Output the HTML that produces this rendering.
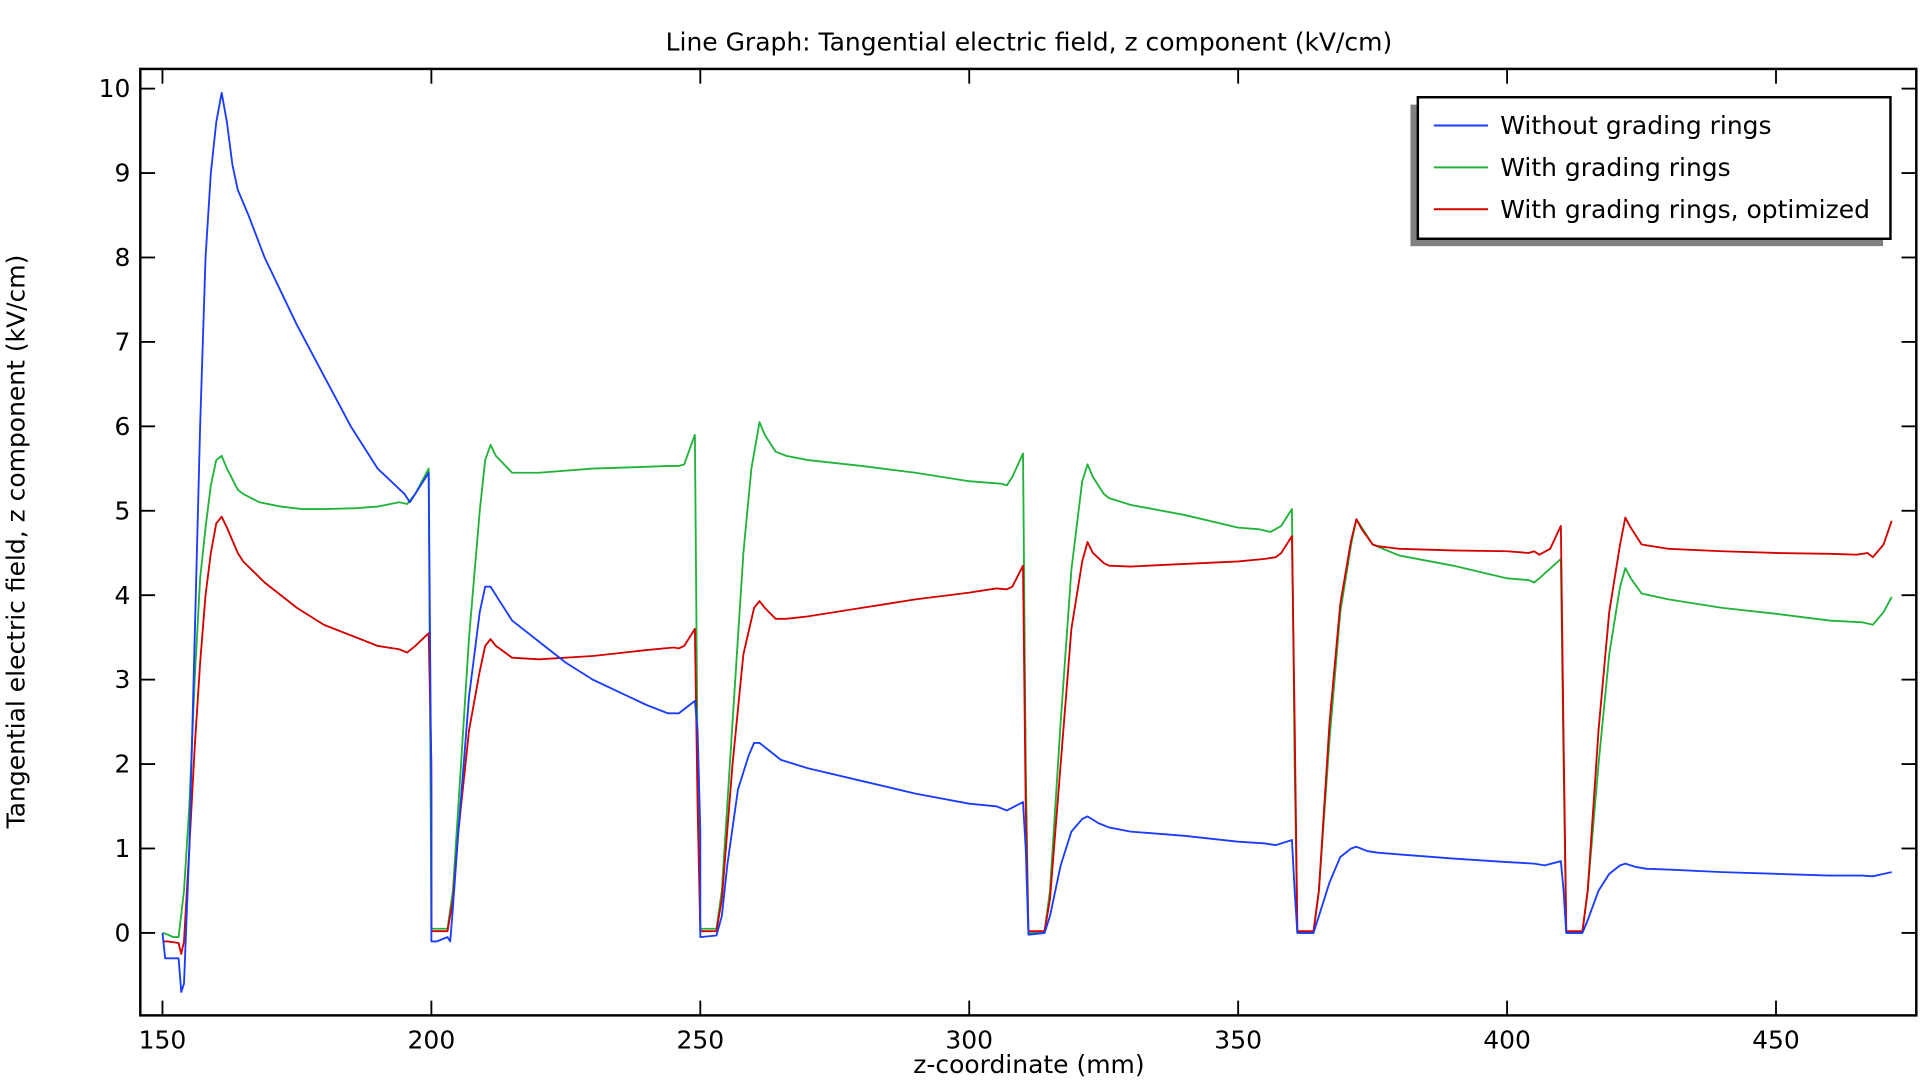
<!DOCTYPE html>
<html><head><meta charset="utf-8"><style>
html,body{margin:0;padding:0;background:#fff;width:1920px;height:1080px;overflow:hidden}
svg{display:block}
text{font-family:"DejaVu Sans",sans-serif;fill:#000}
</style></head><body>
<svg id="s" width="1920" height="1080" viewBox="0 0 1560 877.5" xmlns="http://www.w3.org/2000/svg">
<text x="836" y="41" font-size="20.3" text-anchor="middle">Line Graph: Tangential electric field, z component (kV/cm)</text>
<text x="20" y="440" font-size="20.3" text-anchor="middle" transform="rotate(-90 20 440)">Tangential electric field, z component (kV/cm)</text>
<text x="836" y="872" font-size="20.3" text-anchor="middle">z-coordinate (mm)</text>
<g id="ticks"></g>
<g id="lines"></g>
<rect x="114" y="56" width="1443" height="769" fill="none" stroke="#000" stroke-width="2"/>
<rect x="1146" y="85" width="384" height="115" fill="#808080"/>
<rect x="1152" y="79" width="384" height="115" fill="#fff" stroke="#000" stroke-width="2"/>
<line x1="1165" y1="102" x2="1209" y2="102" stroke="#1a3cff" stroke-width="1.6"/>
<line x1="1165" y1="136" x2="1209" y2="136" stroke="#22b33a" stroke-width="1.6"/>
<line x1="1165" y1="170" x2="1209" y2="170" stroke="#d40000" stroke-width="1.6"/>
<text x="1219" y="109" font-size="20.3">Without grading rings</text>
<text x="1219" y="143" font-size="20.3">With grading rings</text>
<text x="1219" y="177" font-size="20.3">With grading rings, optimized</text>
</svg>
<script>
const X=m=>132+(m-150)*4.37, Y=v=>758-v*68.6;
let t=document.getElementById('ticks'),h='';
for(let m=150;m<=450;m+=50){let x=X(m);h+=`<line x1="${x}" y1="825" x2="${x}" y2="813" stroke="#000" stroke-width="1.5"/><line x1="${x}" y1="56" x2="${x}" y2="68" stroke="#000" stroke-width="1.5"/><text x="${x}" y="852" font-size="20.3" text-anchor="middle">${m}</text>`;}
for(let v=0;v<=10;v++){let y=Y(v);h+=`<line x1="114" y1="${y}" x2="126" y2="${y}" stroke="#000" stroke-width="1.5"/><line x1="1557" y1="${y}" x2="1545" y2="${y}" stroke="#000" stroke-width="1.5"/><text x="106" y="${y+7}" font-size="20.3" text-anchor="end">${v}</text>`;}
t.innerHTML=h;
const B=[[150,0],[150.5,-0.3],[153,-0.3],[153.5,-0.7],[154,-0.6],[155,1],[156,3.5],[157,6],[158,8],[159,9],[160,9.6],[161,9.95],[162,9.6],[163,9.1],[164,8.8],[166,8.5],[169,8],[172,7.6],[175,7.2],[180,6.6],[185,6],[190,5.5],[195,5.2],[196,5.1],[198,5.3],[199.5,5.45],[200,1.5],[200,-0.1],[201,-0.1],[203,-0.05],[203.5,-0.1],[204,0.3],[205,1.2],[207,2.8],[209,3.8],[210,4.1],[211,4.1],[213,3.9],[215,3.7],[220,3.45],[225,3.2],[230,3.0],[235,2.85],[240,2.7],[244,2.6],[246,2.6],[248,2.7],[249,2.75],[249.5,2.4],[250,1.2],[250,-0.05],[253,-0.03],[254,0.2],[255,0.8],[257,1.7],[259,2.1],[260,2.25],[261,2.25],[263,2.15],[265,2.05],[270,1.95],[280,1.8],[290,1.65],[300,1.53],[305,1.5],[307,1.45],[310,1.55],[310.5,1.0],[311,-0.02],[314,0],[315,0.2],[317,0.8],[319,1.2],[321,1.35],[322,1.38],[324,1.3],[326,1.25],[330,1.2],[340,1.15],[350,1.08],[355,1.06],[357,1.04],[360,1.1],[360.5,0.5],[361,0],[364,0],[365,0.2],[367,0.6],[369,0.9],[371,1.0],[372,1.02],[374,0.97],[376,0.95],[380,0.93],[390,0.88],[400,0.84],[405,0.82],[407,0.8],[410,0.85],[410.5,0.5],[411,0],[414,0],[415,0.15],[417,0.5],[419,0.7],[421,0.8],[422,0.82],[424,0.78],[426,0.76],[430,0.75],[440,0.72],[450,0.7],[460,0.68],[466,0.68],[468,0.67],[470,0.7],[471.5,0.72]];
const G=[[150,0],[151,-0.02],[152,-0.05],[153,-0.05],[154,0.5],[155,1.5],[156,3],[157,4.2],[158,4.8],[159,5.3],[160,5.6],[161,5.65],[162,5.5],[164,5.25],[165,5.2],[168,5.1],[172,5.05],[176,5.02],[180,5.02],[186,5.03],[190,5.05],[194,5.1],[195.5,5.08],[197,5.2],[199.5,5.5],[200,0.05],[203,0.05],[204,0.5],[205,1.5],[207,3.5],[209,5],[210,5.6],[211,5.78],[212,5.65],[215,5.45],[220,5.45],[230,5.5],[240,5.52],[244,5.53],[246,5.53],[247,5.55],[249,5.9],[249.5,2],[250,0.05],[253,0.05],[254,0.5],[256,2.5],[258,4.5],[259.5,5.5],[261,6.05],[262,5.9],[264,5.7],[266,5.65],[270,5.6],[280,5.53],[290,5.45],[300,5.35],[304,5.33],[306,5.32],[307,5.3],[308,5.4],[310,5.68],[310.5,2],[311,0],[314,0.02],[315,0.5],[317,2.5],[319,4.3],[321,5.35],[322,5.55],[323,5.4],[325,5.2],[326,5.15],[330,5.07],[340,4.95],[350,4.8],[354,4.78],[356,4.75],[358,4.82],[360,5.02],[360.5,2],[361,0],[364,0],[365,0.5],[367,2.3],[369,3.8],[371,4.6],[372,4.9],[373,4.8],[375,4.6],[380,4.47],[390,4.35],[400,4.2],[404,4.18],[405,4.15],[406,4.2],[410,4.43],[410.5,2],[411,0],[414,0],[415,0.5],[417,2],[419,3.3],[421,4.1],[422,4.32],[423,4.2],[425,4.02],[430,3.95],[440,3.85],[450,3.78],[460,3.7],[466,3.68],[468,3.65],[470,3.8],[471.5,3.98]];
const R=[[150,-0.1],[151,-0.1],[153,-0.12],[153.5,-0.25],[154,-0.1],[155,1],[156,2.2],[157,3.2],[158,4],[159,4.5],[160,4.85],[161,4.93],[162,4.8],[164,4.5],[165,4.4],[169,4.15],[175,3.85],[180,3.65],[186,3.5],[190,3.4],[194,3.36],[195.5,3.32],[197,3.4],[199.5,3.55],[200,2],[200,0.02],[203,0.02],[204,0.4],[205,1.2],[207,2.4],[209,3.1],[210,3.4],[211,3.48],[212,3.4],[215,3.26],[220,3.24],[230,3.28],[240,3.35],[245,3.38],[246,3.37],[247,3.4],[249,3.6],[249.5,1.5],[250,0.02],[253,0.02],[254,0.4],[256,2],[258,3.3],[260,3.85],[261,3.93],[262,3.85],[264,3.72],[266,3.72],[270,3.75],[280,3.85],[290,3.95],[300,4.03],[305,4.08],[307,4.07],[308,4.1],[310,4.35],[310.5,1.5],[311,0.02],[314,0.02],[315,0.4],[317,2],[319,3.6],[321,4.4],[322,4.63],[323,4.5],[325,4.38],[326,4.35],[330,4.34],[340,4.37],[350,4.4],[355,4.43],[357,4.45],[358,4.5],[360,4.7],[360.5,2.5],[361,0.02],[364,0.02],[365,0.5],[367,2.5],[369,3.9],[371,4.65],[372,4.9],[373,4.78],[375,4.6],[376,4.58],[380,4.55],[390,4.53],[400,4.52],[404,4.5],[405,4.52],[406,4.48],[408,4.55],[410,4.82],[410.5,2.3],[411,0.02],[414,0.02],[415,0.5],[417,2.4],[419,3.8],[421,4.6],[422,4.92],[423,4.8],[425,4.6],[430,4.55],[440,4.52],[450,4.5],[460,4.49],[465,4.48],[467,4.5],[468,4.45],[470,4.6],[471.5,4.88]];
let l='';
[[G,'#22b33a'],[R,'#d40000'],[B,'#1a3cff']].forEach(([d,c])=>{l+=`<polyline fill="none" stroke="${c}" stroke-width="1.5" stroke-linejoin="round" points="${d.map(p=>X(p[0]).toFixed(1)+','+Y(p[1]).toFixed(1)).join(' ')}"/>`;});
document.getElementById('lines').innerHTML=l;
</script>
</body></html>
